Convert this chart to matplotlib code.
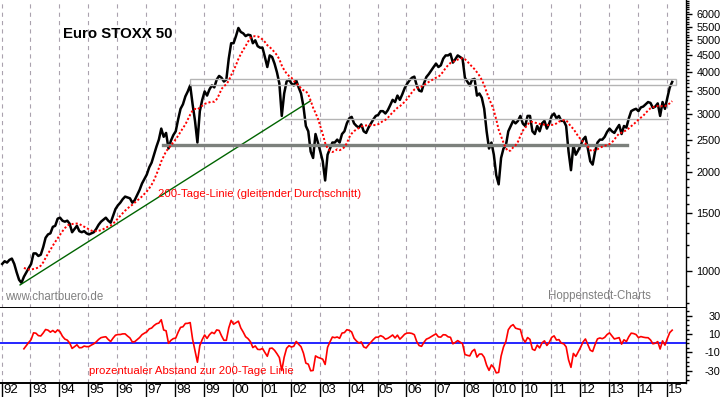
import numpy as np
import pandas as pd
import matplotlib
matplotlib.use("Agg")
import matplotlib.pyplot as plt
from matplotlib.patches import Rectangle
from matplotlib.ticker import NullFormatter
from matplotlib.transforms import blended_transform_factory, ScaledTranslation

plt.rcParams['font.family'] = ['Liberation Sans', 'DejaVu Sans']
plt.rcParams['lines.scale_dashes'] = False

# monthly closes of the EuroSTOXX 50, Jan 1992 .. Mar 2015
close = [
    # 1992
    1050, 1070, 1060, 1080, 1090, 1050, 990, 940, 920, 960, 990, 1020,
    # 1993
    1050, 1130, 1130, 1110, 1120, 1180, 1260, 1290, 1300, 1360, 1370, 1440,
    # 1994
    1450, 1420, 1410, 1420, 1390, 1310, 1340, 1370, 1320, 1310, 1320, 1300,
    # 1995
    1290, 1300, 1310, 1340, 1380, 1410, 1430, 1450, 1420, 1400, 1470, 1540,
    # 1996
    1580, 1610, 1650, 1680, 1670, 1660, 1610, 1640, 1700, 1760, 1840, 1900,
    # 1997
    1960, 2060, 2130, 2250, 2380, 2500, 2700, 2550, 2620, 2350, 2480, 2580,
    # 1998
    2650, 2880, 3100, 3200, 3380, 3500, 3650, 3200, 2850, 2450, 3050, 3300,
    # 1999
    3500, 3400, 3550, 3650, 3600, 3800, 3900, 3850, 3750, 3800, 4400, 4900,
    # 2000
    4900, 5150, 5450, 5300, 5250, 5150, 5200, 5180, 4900, 5000, 4800, 4750,
    # 2001
    4750, 4450, 4150, 4500, 4450, 4250, 4000, 3700, 2950, 3450, 3750, 3800,
    # 2002
    3700, 3650, 3780, 3600, 3450, 3150, 2750, 2650, 2300, 2200, 2600, 2450,
    # 2003
    2300, 2150, 1880, 2250, 2350, 2450, 2450, 2500, 2450, 2600, 2650, 2800,
    # 2004
    2900, 2930, 2800, 2750, 2720, 2780, 2650, 2620, 2720, 2800, 2880, 2950,
    # 2005
    2970, 3050, 3050, 3000, 3070, 3180, 3300, 3250, 3400, 3300, 3430, 3580,
    # 2006
    3690, 3780, 3850, 3880, 3650, 3520, 3500, 3700, 3870, 3950, 4050, 4150,
    # 2007
    4250, 4150, 4200, 4400, 4500, 4500, 4550, 4280, 4380, 4500, 4450, 4400,
    # 2008
    3850, 3750, 3650, 3800, 3820, 3400, 3450, 3350, 3100, 2650, 2350, 2450,
    # 2009
    2250, 1950, 1830, 2200, 2350, 2400, 2650, 2750, 2850, 2800, 2850, 2950,
    # 2010
    2800, 2750, 2950, 2950, 2650, 2600, 2750, 2650, 2800, 2850, 2700, 2800,
    # 2011
    2950, 3000, 2900, 2950, 2850, 2850, 2750, 2300, 2020, 2400, 2250, 2320,
    # 2012
    2400, 2500, 2550, 2350, 2150, 2100, 2300, 2450, 2500, 2500, 2550, 2640,
    # 2013
    2700, 2650, 2620, 2700, 2770, 2600, 2750, 2720, 2900, 3050, 3080, 3100,
    # 2014
    3050, 3130, 3150, 3200, 3250, 3230, 3120, 3150, 3220, 2950, 3250, 3100,
    # 2015
    3350, 3600, 3740,
]
first_month = '1992-01'
ma_window = 10   # months, roughly 200 trading days

years = list(range(1992, 2016))
year_labels = ['92', '93', '94', '95', '96', '97', '98', '99', '00', '01', '02',
               '03', '04', '05', '06', '07', '08', '010', '10', '11', '12',
               '13', '14', '15']

price_ticks = [1000, 1500, 2000, 2500, 3000, 3500, 4000, 4500, 5000, 5500, 6000]
pct_ticks = [30, 10, -10, -30]

# drawn lines on the chart
trend_t = [1992.66, 2002.69]
trend_v = [907, 3272]
support_level = 2410
support_span = [1997.60, 2013.65]
box_levels = [3660, 3810]
box_span = [1998.54, 2015.34]
mid_level = 2883
mid_span = [2001.82, 2015.06]

# ---------------------------------------------------------------
dates = pd.date_range(first_month, periods=len(close), freq='MS')
t = dates.year + (dates.month - 0.5) / 12
s = pd.Series(close, index=t, dtype=float)
ma = s.rolling(ma_window).mean()
dist = (s / ma - 1) * 100

W, H = 723, 397
fig = plt.figure(figsize=(W / 100, H / 100), dpi=100)
ax = fig.add_axes([0, 1 - 308 / H, 686 / W, 308 / H])
ax2 = fig.add_axes([0, 1 - 382.5 / H, 686 / W, 74.5 / H])

px_per_year = 28.92
xlim = (1992 - 1 / px_per_year, 1992 + 685 / px_per_year)

grid_kw = dict(color='#aaa2ae', lw=0.8, dashes=(3, 3), zorder=0)
for a in (ax, ax2):
    a.set_xlim(*xlim)
    for y in years:
        a.axvline(y + 0.02, **grid_kw)
    for side in ('top', 'left'):
        a.spines[side].set_visible(False)
    a.spines['right'].set_linewidth(1)
    a.spines['bottom'].set_linewidth(1.4)
    a.yaxis.tick_right()

# main panel
ax.set_yscale('log')
ax.set_ylim(772, 6625)
ax.plot(s.index, s.values, color='black', lw=1.8, zorder=3)
ax.plot(ma.index, ma.values, color='red', lw=1.4, dashes=(1.5, 1.5), zorder=5)
ax.plot(trend_t, trend_v, color='#006400', lw=1, zorder=4)
ax.plot(support_span, [support_level] * 2, color='#7c807c', lw=2.4, zorder=4)
ax.plot(mid_span, [mid_level] * 2, color='#b4b4b4', lw=1, zorder=4)
ax.add_patch(Rectangle((box_span[0], box_levels[0]), box_span[1] - box_span[0],
                       box_levels[1] - box_levels[0], fill=False,
                       ec='#b4b4b4', lw=1, zorder=4))

ax.set_yticks(price_ticks, labels=[str(v) for v in price_ticks])
ax.set_yticks([v for v in range(800, 6700, 100) if v not in price_ticks], minor=True)
ax.yaxis.set_minor_formatter(NullFormatter())
ax.tick_params(axis='y', which='major', length=4, width=1, pad=21, labelsize=7.8)
ax.tick_params(axis='y', which='minor', length=2.2, width=1)
for lbl in ax.get_yticklabels():
    lbl.set_ha('right')
ax.set_xticks([])

# distance panel
ax2.set_ylim(-42.7, 38.5)
ax2.axhline(0, color='#0000ff', lw=1.2, zorder=2)
ax2.plot(dist.index, dist.values, color='red', lw=1.2, zorder=3)
ax2.set_yticks(pct_ticks, labels=[str(v) for v in pct_ticks])
ax2.set_yticks([v for v in range(-40, 40, 5) if v not in pct_ticks], minor=True)
ax2.yaxis.set_minor_formatter(NullFormatter())
ax2.tick_params(axis='y', which='major', length=4, width=1, pad=21, labelsize=7.8)
ax2.tick_params(axis='y', which='minor', length=2.2, width=1)
for lbl in ax2.get_yticklabels():
    lbl.set_ha('right')
ax2.set_xticks([y + 0.02 for y in years])
ax2.tick_params(axis='x', direction='out', length=11, width=1, labelbottom=False)

trans = blended_transform_factory(ax2.transData, fig.transFigure) + \
    ScaledTranslation(2 / 100, 0, fig.dpi_scale_trans)
for y, lab in zip(years, year_labels):
    fig.text(y, 1 - 390 / H, lab, transform=trans, ha='left', va='center',
             fontsize=9.5)

# texts
def px_text(x, y, txt, **kw):
    fig.text(x / W, 1 - y / H, txt, va='center', ha='left', **kw)

px_text(63, 34, 'Euro STOXX 50', fontsize=10.8, fontweight='bold')
px_text(158, 194, '200-Tage-Linie (gleitender Durchschnitt)', fontsize=8.2, color='red')
px_text(5, 297, 'www.chartbuero.de', fontsize=8.3, color='#808080')
px_text(548, 296, 'Hoppenstedt-Charts', fontsize=8.3, color='#808080')
px_text(89, 371, 'prozentualer Abstand zur 200-Tage Linie', fontsize=8.2, color='red')

fig.savefig('out.png', dpi=100)
